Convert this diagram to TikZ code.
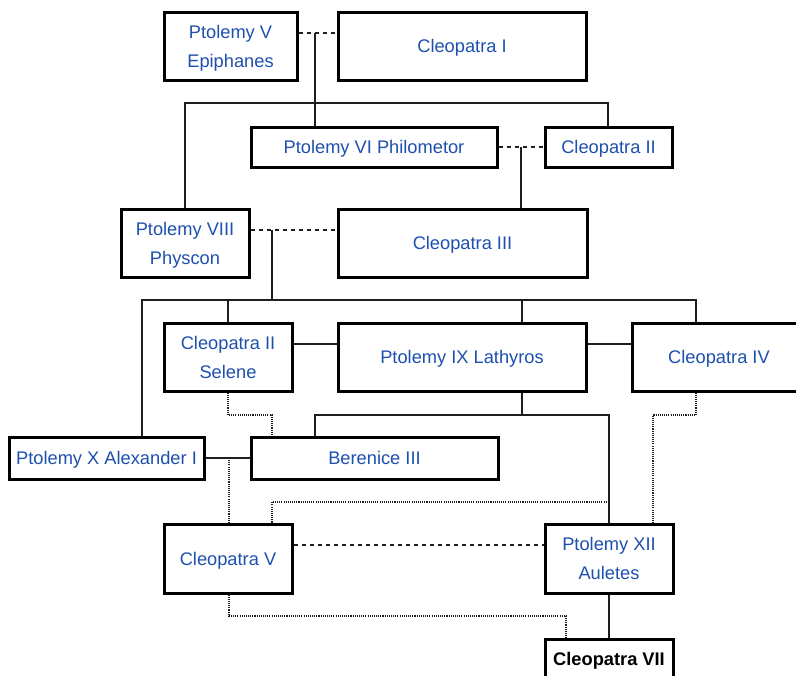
\documentclass[tikz,border=0pt]{standalone}
\usepackage{fontspec}
\setmainfont{Liberation Sans}
\definecolor{nameblue}{RGB}{30,80,175}
\definecolor{linegray}{RGB}{30,30,30}
\newcommand\pbox[6]{%
  \node[pbx, minimum width={(#4-#2)*0.75pt}, minimum height={(#5-#3)*0.75pt}]
    (#1) at ({(#2+#4)/2},{(#3+#5)/2}) {#6};}
\begin{document}
\begin{tikzpicture}[x=0.75pt,y=-0.75pt,
  pbx/.style={draw=black, line width=2.25pt, fill=white, inner sep=0pt,
    align=center, text=nameblue, text depth=0pt,
    font=\fontsize{13.7}{21.75}\selectfont},
  link/.style={draw=linegray, line width=0.8pt},
  wed/.style={link, line width=0.9pt, dash pattern=on 3.5pt off 2.5pt},
  kin/.style={link, dash pattern=on 0.8pt off 0.8pt}]
\clip (0,0) rectangle (796,675);
\fill[white] (0,0) rectangle (796,675);
% boxes
\pbox{pv}{164}{12}{297}{80}{Ptolemy V\\Epiphanes}
\pbox{c1}{338}{12}{586}{80}{Cleopatra I}
\pbox{p6}{251}{127}{497}{167}{Ptolemy VI Philometor}
\pbox{c2}{545}{127}{672}{167}{Cleopatra II}
\pbox{p8}{121}{209}{249}{277}{Ptolemy VIII\\Physcon}
\pbox{c3}{338}{209}{587}{277}{Cleopatra III}
\pbox{c2s}{164}{323}{292}{391}{Cleopatra II\\Selene}
\pbox{p9}{338}{323}{586}{391}{Ptolemy IX Lathyros}
\pbox{c4}{632}{323}{806}{391}{Cleopatra IV}
\pbox{p10}{9}{437}{204}{479}{Ptolemy X Alexander I}
\pbox{b3}{251}{437}{498}{479}{Berenice III}
\pbox{c5}{164}{524}{292}{593}{Cleopatra V}
\pbox{p12}{545}{524}{673}{593}{Ptolemy XII\\Auletes}
\node[pbx, minimum width={128*0.75pt}, minimum height={60*0.75pt}, anchor=north]
  (c7) at (609,638) {};
\node[text=black, font=\fontsize{13.7}{21.75}\bfseries\selectfont, text depth=0pt]
  (c7t) at (609,659) {Cleopatra VII};
% junction points
\coordinate (j1) at (315,33);
\coordinate (j2) at (521,147);
\coordinate (j3) at (272,230);
\coordinate (j4) at (522,415);
\coordinate (j5) at (229,458);
% generation of Ptolemy V
\draw[wed] (pv.east |- j1) -- (c1.west |- j1);
\draw[link] (j1) -- (p6.north -| j1);
\draw[link] (p8.north -| 185,0) -- (185,103) -- (608,103) -- (c2.north -| 608,0);
% Ptolemy VI
\draw[wed] (p6.east) -- (c2.west);
\draw[link] (j2) -- (c3.north -| j2);
% Ptolemy VIII
\draw[wed] (p8.east |- j3) -- (c3.west |- j3);
\draw[link] (j3) -- (272,300);
\draw[link] (p10.north -| 142,0) -- (142,300) -- (696,300) -- (c4.north -| 696,0);
\draw[link] (228,300) -- (c2s.north -| 228,0);
\draw[link] (522,300) -- (p9.north -| 522,0);
% Ptolemy IX
\draw[link] (c2s.east |- 0,344) -- (p9.west |- 0,344);
\draw[link] (p9.east |- 0,344) -- (c4.west |- 0,344);
\draw[link] (p9.south -| j4) -- (j4);
\draw[link] (b3.north -| 315,0) -- (315,415) -- (609,415) -- (p12.north -| 609,0);
\draw[kin] (c2s.south -| 228,0) -- (228,415) -- (272,415) -- (b3.north -| 272,0);
\draw[kin] (c4.south -| 696,0) -- (696,415) -- (653,415) -- (p12.north -| 653,0);
% Ptolemy X
\draw[link] (p10.east) -- (b3.west);
\draw[kin] (j5) -- (c5.north -| j5);
\draw[kin] (c5.north -| 272,0) -- (272,502) -- (608,502);
% Ptolemy XII
\draw[wed] (c5.east |- 0,545) -- (p12.west |- 0,545);
\draw[kin] (c5.south -| j5) -- (229,616) -- (566,616) -- (c7.north -| 566,0);
\draw[link] (p12.south -| 609,0) -- (c7.north -| 609,0);
\end{tikzpicture}
\end{document}
